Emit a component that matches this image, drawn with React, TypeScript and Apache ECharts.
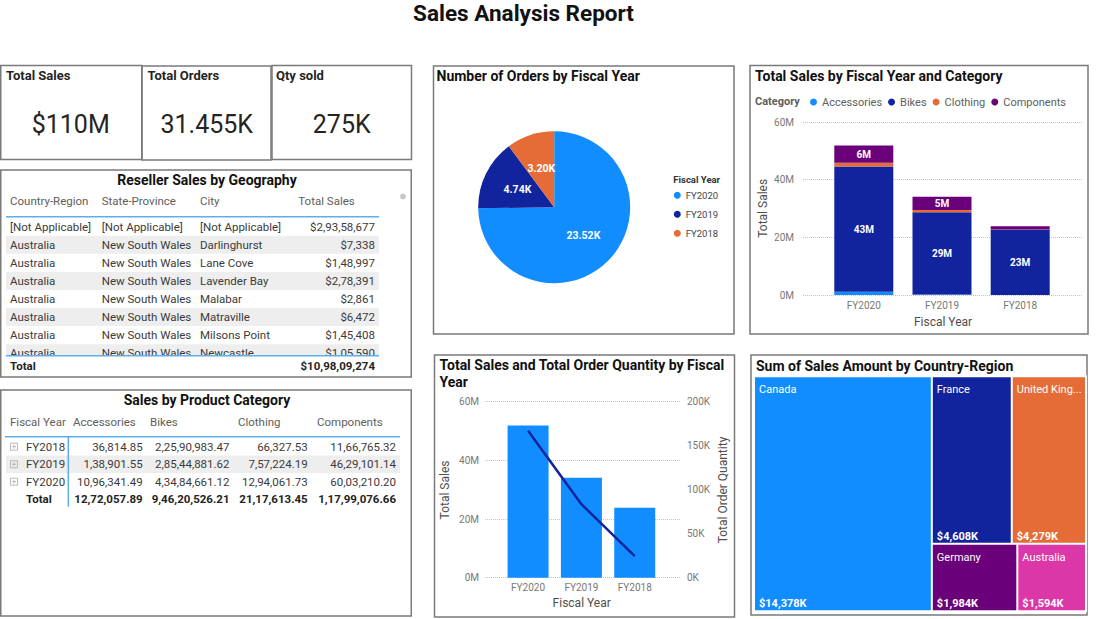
import React, { useEffect, useRef } from 'react';
import * as echarts from 'echarts';

const FONT = 'Roboto, "Noto Sans", sans-serif';

// ---------- data ----------
const years = ['FY2018', 'FY2019', 'FY2020'];
const productCategories = ['Accessories', 'Bikes', 'Clothing', 'Components'];
const accessoriesSales = [36814.85, 138901.55, 1096341.49];
const bikesSales = [22590983.47, 28544881.62, 43484661.12];
const clothingSales = [66327.53, 757224.19, 1294061.73];
const componentsSales = [1166765.32, 4629101.14, 6003210.2];

const chartYears = ['FY2020', 'FY2019', 'FY2018'];
const orderCounts = [23518, 4737, 3200];
const orderQuantities = [167000, 83500, 24500];

const geoHeaders = ['Country-Region', 'State-Province', 'City', 'Total Sales'];
const geoCountry = ['[Not Applicable]', 'Australia', 'Australia', 'Australia', 'Australia', 'Australia', 'Australia', 'Australia'];
const geoState = ['[Not Applicable]', 'New South Wales', 'New South Wales', 'New South Wales', 'New South Wales', 'New South Wales', 'New South Wales', 'New South Wales'];
const geoCity = ['[Not Applicable]', 'Darlinghurst', 'Lane Cove', 'Lavender Bay', 'Malabar', 'Matraville', 'Milsons Point', 'Newcastle'];
const geoSales = [29358677, 7338, 148997, 278391, 2861, 6472, 145408, 105590];

const treemapCountries = ['Canada', 'France', 'United Kingdom', 'Germany', 'Australia'];
const treemapSalesK = [14378, 4608, 4279, 1984, 1594];

const salesAxisMax = 60000000;
const salesAxisStep = 20000000;
const qtyAxisMax = 200000;
const qtyAxisStep = 50000;

// ---------- styling ----------
const C_BLUE = '#118DFF';
const C_NAVY = '#12239E';
const C_ORANGE = '#E66C37';
const C_PURPLE = '#6B007B';
const C_MAGENTA = '#DC37A9';
const catColors = [C_BLUE, C_NAVY, C_ORANGE, C_PURPLE];
const yearColors = [C_BLUE, C_NAVY, C_ORANGE];
const treemapColors = [C_BLUE, C_NAVY, C_ORANGE, C_PURPLE, C_MAGENTA];
const AXIS_LABEL = '#777777';
const AXIS_NAME = '#504e4c';
const DARK = '#252423';
const TABLE_TEXT = '#3b3a39';
const TABLE_HEAD = '#605E5C';
const BORDER = '#7a7a7a';
const ACCENT_LINE = '#5FAEEB';

function fmtIN(v: number, dec: number) {
  const s = v.toFixed(dec);
  const parts = s.split('.');
  const int = parts[0];
  let last3 = int.slice(-3);
  let rest = int.slice(0, -3);
  if (rest) last3 = ',' + last3;
  rest = rest.replace(/\B(?=(\d{2})+(?!\d))/g, ',');
  return rest + last3 + (parts[1] ? '.' + parts[1] : '');
}

function txt(text: string, x: number, y: number, o: any = {}) {
  return {
    type: 'text',
    x,
    y,
    rotation: o.rotation || 0,
    style: {
      text,
      fill: o.fill || DARK,
      fontFamily: FONT,
      fontSize: o.size || 11,
      fontWeight: o.weight || 'normal',
      align: o.align || 'left',
      verticalAlign: o.va || 'middle',
      lineHeight: o.lineHeight,
    },
  };
}
function box(x: number, y: number, w: number, h: number) {
  return { type: 'rect', shape: { x, y, width: w, height: h }, style: { fill: 'none', stroke: BORDER, lineWidth: 1.5 } };
}
function fillRect(x: number, y: number, w: number, h: number, fill: string) {
  return { type: 'rect', shape: { x, y, width: w, height: h }, style: { fill } };
}
function hline(x1: number, x2: number, y: number, stroke: string, lw = 1.5) {
  return { type: 'line', shape: { x1, y1: y, x2, y2: y }, style: { stroke, lineWidth: lw } };
}
function vline(x: number, y1: number, y2: number, stroke: string, lw = 1.5) {
  return { type: 'line', shape: { x1: x, y1, x2: x, y2 }, style: { stroke, lineWidth: lw } };
}

function buildOption() {
  const rev = (a: number[]) => [...a].reverse();
  const salesByCat = [accessoriesSales, bikesSales, clothingSales, componentsSales];
  const totalByYear = years.map((_, i) => salesByCat.reduce((s, arr) => s + arr[i], 0));
  const grandTotal = totalByYear.reduce((a, b) => a + b, 0);
  const totalOrders = orderCounts.reduce((a, b) => a + b, 0);
  const totalQty = orderQuantities.reduce((a, b) => a + b, 0);

  const g: any[] = [];
  // main title
  g.push(txt('Sales Analysis Report', 523.5, 13, { size: 22.5, weight: 'bold', align: 'center', fill: '#111' }));

  // KPI cards
  g.push(box(0.75, 65.5, 141, 94));
  g.push(box(142, 66, 129, 94));
  g.push(box(272, 65.5, 139.5, 94));
  g.push(txt('Total Sales', 6, 75.7, { size: 13, weight: 'bold' }));
  g.push(txt('Total Orders', 147.5, 75.7, { size: 13, weight: 'bold' }));
  g.push(txt('Qty sold', 276, 75.7, { size: 13, weight: 'bold' }));
  g.push(txt('$' + Math.round(grandTotal / 1e6) + 'M', 70.7, 124, { size: 25, align: 'center' }));
  g.push(txt((totalOrders / 1000).toFixed(3) + 'K', 206.7, 124, { size: 25, align: 'center' }));
  g.push(txt(Math.round(totalQty / 1000) + 'K', 341.7, 124, { size: 25, align: 'center' }));

  // Reseller Sales by Geography table
  g.push(box(0.75, 170, 410.5, 207));
  g.push(txt('Reseller Sales by Geography', 207, 180, { size: 14, weight: 'bold', align: 'center', fill: '#111' }));
  const geoColX = [10, 101.7, 200, 298.3];
  geoHeaders.forEach((h, i) => g.push(txt(h, geoColX[i], 201, { size: 11.5, fill: TABLE_HEAD })));
  g.push(hline(6, 379, 216.7, ACCENT_LINE));
  const rowY0 = 226.8;
  const rowStep = 18.05;
  geoCountry.forEach((_, i) => {
    const y = rowY0 + i * rowStep;
    if (i % 2 === 1) g.push(fillRect(6, y - 9, 373, 18, '#EEEEEE'));
  });
  geoCountry.forEach((c, i) => {
    const y = rowY0 + i * rowStep;
    g.push(txt(c, 10, y, { size: 11.5, fill: TABLE_TEXT }));
    g.push(txt(geoState[i], 101.7, y, { size: 11.5, fill: TABLE_TEXT }));
    g.push(txt(geoCity[i], 200, y, { size: 11.5, fill: TABLE_TEXT }));
    g.push(txt('$' + fmtIN(geoSales[i], 0), 375, y, { size: 11.5, fill: TABLE_TEXT, align: 'right' }));
  });
  g.push(fillRect(2, 356, 400, 19, '#ffffff'));
  g.push(hline(6, 379, 355.7, ACCENT_LINE));
  g.push(txt('Total', 10, 366.3, { size: 11.5, weight: 'bold' }));
  g.push(txt('$' + fmtIN(grandTotal, 0), 375, 366.3, { size: 11.5, weight: 'bold', align: 'right' }));
  g.push({ type: 'circle', shape: { cx: 403, cy: 196.5, r: 3 }, style: { fill: '#c8c8c8' } });

  // Sales by Product Category table
  g.push(box(0.75, 390, 410.5, 226));
  g.push(txt('Sales by Product Category', 207, 400, { size: 14, weight: 'bold', align: 'center', fill: '#111' }));
  g.push(txt('Fiscal Year', 10, 421.7, { size: 11.5, fill: TABLE_HEAD }));
  const pcHeadX = [73, 150, 238, 317];
  const pcValX = [142.7, 229.5, 307.7, 396];
  productCategories.forEach((c, i) => g.push(txt(c, pcHeadX[i], 421.7, { size: 11.5, fill: TABLE_HEAD })));
  const pcRowY = [446.7, 464.3, 481.7];
  g.push(fillRect(6, 455.5, 394, 17.6, '#EEEEEE'));
  g.push(hline(5, 400, 436.7, ACCENT_LINE));
  g.push(vline(68.3, 437, 506.7, ACCENT_LINE));
  years.forEach((y, r) => {
    const yy = pcRowY[r];
    g.push({ type: 'rect', shape: { x: 10.5, y: yy - 3.5, width: 7, height: 7 }, style: { fill: 'none', stroke: '#aaaaaa', lineWidth: 0.8 } });
    g.push(hline(12, 16, yy, '#aaaaaa', 0.8));
    g.push(vline(14, yy - 2, yy + 2, '#aaaaaa', 0.8));
    g.push(txt(y, 26, yy, { size: 11.5, fill: TABLE_TEXT }));
    salesByCat.forEach((arr, c) => g.push(txt(fmtIN(arr[r], 2), pcValX[c], yy, { size: 11.5, fill: TABLE_TEXT, align: 'right' })));
  });
  g.push(txt('Total', 26, 499, { size: 11.5, weight: 'bold' }));
  salesByCat.forEach((arr, c) => {
    const t = arr.reduce((a, b) => a + b, 0);
    g.push(txt(fmtIN(t, 2), pcValX[c], 499, { size: 11.5, weight: 'bold', align: 'right' }));
  });

  // Pie card
  g.push(box(433.5, 66, 300.5, 268));
  g.push(txt('Number of Orders by Fiscal Year', 436.5, 75.5, { size: 14, weight: 'bold', fill: '#111' }));
  g.push(txt('Fiscal Year', 673.3, 179, { size: 9.5, weight: 'bold', fill: '#333' }));

  // Stacked card
  g.push(box(750, 65.5, 338, 268.5));
  g.push(txt('Total Sales by Fiscal Year and Category', 755, 75.7, { size: 14, weight: 'bold', fill: '#111' }));
  g.push(txt('Category', 755, 101.7, { size: 11, weight: 'bold', fill: TABLE_HEAD }));
  g.push(txt('Total Sales', 763.3, 208.3, { size: 12, fill: AXIS_NAME, align: 'center', rotation: Math.PI / 2 }));
  g.push(txt('Fiscal Year', 943, 321.7, { size: 12, fill: AXIS_NAME, align: 'center' }));

  // Combo card
  g.push(box(434.5, 355, 300, 262));
  g.push(txt('Total Sales and Total Order Quantity by Fiscal\nYear', 439.5, 356.5, { size: 14, weight: 'bold', fill: '#111', va: 'top', lineHeight: 17.3 }));
  g.push(txt('Total Sales', 445, 490, { size: 12, fill: AXIS_NAME, align: 'center', rotation: Math.PI / 2 }));
  g.push(txt('Total Order Quantity', 723.3, 490, { size: 12, fill: AXIS_NAME, align: 'center', rotation: Math.PI / 2 }));
  g.push(txt('Fiscal Year', 581.7, 603.3, { size: 12, fill: AXIS_NAME, align: 'center' }));

  // Treemap card
  g.push(box(751, 355, 336, 260));
  g.push(txt('Sum of Sales Amount by Country-Region', 756, 365.7, { size: 14, weight: 'bold', fill: '#111' }));

  const salesFmt = (v: number) => Math.round(v / 1e6) + 'M';
  const qtyFmt = (v: number) => Math.round(v / 1000) + 'K';
  const dotted = { show: true, lineStyle: { type: 'dotted', color: '#c4c4c4', width: 1 } };
  const axisLabelStyle = { color: AXIS_LABEL, fontSize: 10, fontFamily: FONT };

  const treemapData = treemapCountries.map((n, i) => ({ name: n, value: treemapSalesK[i], itemStyle: { color: treemapColors[i] } }));
  const treemapBase = {
    type: 'treemap',
    left: 753,
    top: 375.3,
    width: 334,
    height: 237,
    roam: false,
    nodeClick: false,
    breadcrumb: { show: false },
    upperLabel: { show: false },
    itemStyle: { borderWidth: 1, borderColor: '#ffffff', gapWidth: 0 },
  };

  return {
    animation: false,
    backgroundColor: '#ffffff',
    textStyle: { fontFamily: FONT },
    graphic: g,
    legend: [
      {
        data: chartYears,
        orient: 'vertical',
        left: 668.8,
        top: 185.3,
        icon: 'circle',
        itemWidth: 7,
        itemHeight: 7,
        itemGap: 9,
        selectedMode: false,
        textStyle: { fontSize: 9.5, color: '#444', fontFamily: FONT },
      },
      {
        data: productCategories,
        orient: 'horizontal',
        left: 805,
        top: 91.5,
        icon: 'circle',
        itemWidth: 7,
        itemHeight: 7,
        itemGap: 6,
        selectedMode: false,
        textStyle: { fontSize: 11, color: TABLE_HEAD, fontFamily: FONT },
      },
    ],
    grid: [
      { left: 824.7, top: 122, width: 234.6, height: 173 },
      { left: 803, top: 122, width: 280, height: 173 },
      { left: 501.4, top: 401.7, width: 160, height: 176 },
      { left: 485, top: 401.7, width: 195, height: 176 },
    ],
    xAxis: [
      { type: 'category', gridIndex: 0, data: chartYears, axisLine: { show: false }, axisTick: { show: false }, axisLabel: { ...axisLabelStyle, margin: 5 } },
      { type: 'value', gridIndex: 1, min: 0, max: 1, show: false },
      { type: 'category', gridIndex: 2, data: chartYears, axisLine: { show: false }, axisTick: { show: false }, axisLabel: { ...axisLabelStyle, margin: 4.5 } },
      { type: 'value', gridIndex: 3, min: 0, max: 1, show: false },
    ],
    yAxis: [
      { type: 'value', gridIndex: 0, min: 0, max: salesAxisMax, interval: salesAxisStep, show: false },
      {
        type: 'value', gridIndex: 1, min: 0, max: salesAxisMax, interval: salesAxisStep,
        axisLine: { show: false }, axisTick: { show: false }, splitLine: dotted,
        axisLabel: { ...axisLabelStyle, margin: 9, formatter: salesFmt },
      },
      { type: 'value', gridIndex: 2, min: 0, max: salesAxisMax, interval: salesAxisStep, show: false },
      { type: 'value', gridIndex: 2, min: 0, max: qtyAxisMax, interval: qtyAxisStep, show: false },
      {
        type: 'value', gridIndex: 3, min: 0, max: salesAxisMax, interval: salesAxisStep,
        axisLine: { show: false }, axisTick: { show: false }, splitLine: dotted,
        axisLabel: { ...axisLabelStyle, margin: 6, formatter: salesFmt },
      },
      {
        type: 'value', gridIndex: 3, position: 'right', min: 0, max: qtyAxisMax, interval: qtyAxisStep,
        axisLine: { show: false }, axisTick: { show: false }, splitLine: { show: false },
        axisLabel: { ...axisLabelStyle, margin: 7, formatter: qtyFmt },
      },
    ],
    series: [
      ...productCategories.map((name, c) => ({
        type: 'bar',
        name,
        stack: 'sales',
        xAxisIndex: 0,
        yAxisIndex: 0,
        barWidth: 59,
        data: rev(salesByCat[c]),
        itemStyle: { color: catColors[c] },
        label: {
          show: true,
          position: 'inside',
          color: '#ffffff',
          fontWeight: 'bold',
          fontSize: 10,
          fontFamily: FONT,
          formatter: (p: any) => (p.value >= 3e6 ? Math.round(p.value / 1e6) + 'M' : ''),
        },
      })),
      {
        type: 'bar',
        name: 'Total Sales',
        xAxisIndex: 2,
        yAxisIndex: 2,
        barWidth: 41,
        data: rev(totalByYear),
        itemStyle: { color: C_BLUE },
      },
      {
        type: 'line',
        name: 'Total Order Quantity',
        xAxisIndex: 2,
        yAxisIndex: 3,
        data: orderQuantities,
        symbol: 'none',
        lineStyle: { color: C_NAVY, width: 2.5 },
        itemStyle: { color: C_NAVY },
        z: 5,
      },
      {
        type: 'pie',
        name: 'Orders',
        center: [554.2, 207.2],
        radius: 76,
        startAngle: 90,
        clockwise: true,
        data: chartYears.map((y, i) => ({ name: y, value: orderCounts[i], itemStyle: { color: yearColors[i] } })),
        label: {
          show: true,
          position: 'inside',
          color: '#ffffff',
          fontWeight: 'bold',
          fontSize: 10.5,
          fontFamily: FONT,
          formatter: (p: any) => (p.value / 1000).toFixed(2) + 'K',
        },
        labelLine: { show: false },
        itemStyle: { borderWidth: 0 },
      },
      {
        ...treemapBase,
        name: 'Country names',
        data: treemapData,
        label: { show: true, position: 'insideTopLeft', distance: 4, padding: [3, 0, 0, 0], formatter: '{b}', color: '#ffffff', fontSize: 11, fontFamily: FONT },
      },
      {
        ...treemapBase,
        name: 'Country values',
        silent: true,
        data: treemapCountries.map((n, i) => ({ name: n, value: treemapSalesK[i], itemStyle: { color: 'rgba(0,0,0,0)', borderColor: 'rgba(0,0,0,0)' } })),
        itemStyle: { borderWidth: 1, borderColor: 'rgba(0,0,0,0)', gapWidth: 0, color: 'rgba(0,0,0,0)' },
        label: {
          show: true,
          position: 'insideBottomLeft',
          distance: 4,
          padding: [0, 0, -3, 0],
          color: '#ffffff',
          fontSize: 11,
          fontWeight: 'bold',
          fontFamily: FONT,
          formatter: (p: any) => '$' + Number(p.value).toLocaleString('en-US') + 'K',
        },
      },
    ],
  };
}

export default function App() {
  const ref = useRef<HTMLDivElement>(null);
  useEffect(() => {
    if (!ref.current) return;
    const chart = echarts.init(ref.current, null, { renderer: 'svg' });
    chart.setOption(buildOption() as any);
    return () => chart.dispose();
  }, []);
  return <div ref={ref} style={{ position: 'absolute', left: 0, top: 0, width: 1100, height: 619, background: '#ffffff' }} />;
}
